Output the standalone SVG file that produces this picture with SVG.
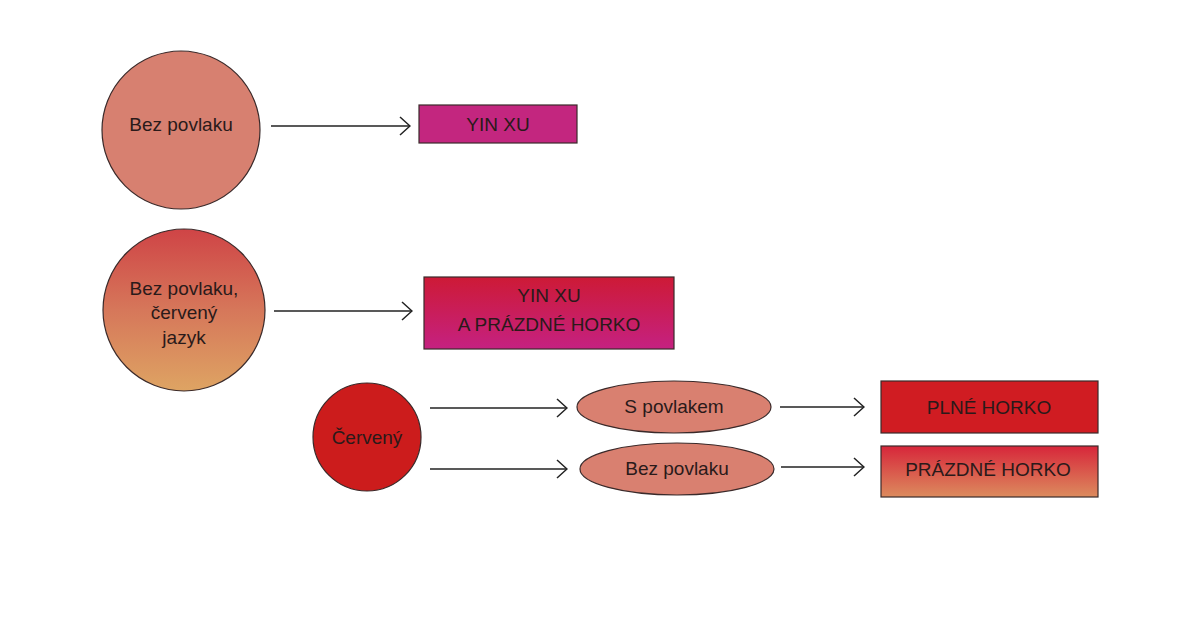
<svg xmlns="http://www.w3.org/2000/svg" width="1200" height="641" viewBox="0 0 1200 641">
<defs>
<linearGradient id="g1" x1="0" y1="0" x2="0" y2="1"><stop offset="0" stop-color="#cf4446"/><stop offset="0.5" stop-color="#d6775a"/><stop offset="1" stop-color="#dea463"/></linearGradient>
<linearGradient id="g2" x1="0" y1="0" x2="0" y2="1"><stop offset="0" stop-color="#cd1a36"/><stop offset="1" stop-color="#c52181"/></linearGradient>
<linearGradient id="g3" x1="0" y1="0" x2="0" y2="1"><stop offset="0" stop-color="#d7263a"/><stop offset="1" stop-color="#dc8b5e"/></linearGradient>
<marker id="a" markerWidth="12" markerHeight="20" refX="11" refY="10" orient="auto" markerUnits="userSpaceOnUse"><path d="M1,1 L11,10 L1,19" fill="none" stroke="#222" stroke-width="1.5"/></marker>
</defs>
<style>
.s{stroke:#3a2a2a;stroke-width:1.2}
text{font-family:"Liberation Sans",Arial,sans-serif;font-size:19px;fill:#2a1a1a;text-anchor:middle}
.c line{stroke:#222;stroke-width:1.5;marker-end:url(#a)}
</style>
<rect width="1200" height="641" fill="#fff"/>
<g id="n1"><ellipse class="s" cx="181" cy="130" rx="79" ry="79" fill="#d78070"/><text x="181" y="131">Bez povlaku</text></g>
<g id="n2"><rect class="s" x="419" y="105" width="158" height="38" fill="#c3267f"/><text x="498" y="131">YIN XU</text></g>
<g id="n3"><ellipse class="s" cx="184" cy="310" rx="81" ry="81" fill="url(#g1)"/><text x="184" y="295">Bez povlaku,</text><text x="184" y="319">červený</text><text x="184" y="344">jazyk</text></g>
<g id="n4"><rect class="s" x="424" y="277" width="250" height="72" fill="url(#g2)"/><text x="549" y="302">YIN XU</text><text x="549" y="331">A PRÁZDNÉ HORKO</text></g>
<g id="n5"><ellipse class="s" cx="367" cy="437" rx="54" ry="54" fill="#cc1c1c"/><text x="367" y="444">Červený</text></g>
<g id="n6"><ellipse class="s" cx="674" cy="407" rx="97" ry="26" fill="#d98070"/><text x="674" y="413">S povlakem</text></g>
<g id="n7"><ellipse class="s" cx="677" cy="469" rx="97" ry="26" fill="#d98070"/><text x="677" y="475">Bez povlaku</text></g>
<g id="n8"><rect class="s" x="881" y="381" width="217" height="52" fill="#d01c22"/><text x="989" y="414">PLNÉ HORKO</text></g>
<g id="n9"><rect class="s" x="881" y="446" width="217" height="51" fill="url(#g3)"/><text x="988" y="476">PRÁZDNÉ HORKO</text></g>
<g class="c">
<line x1="271" y1="126" x2="410" y2="126"/>
<line x1="274" y1="311" x2="412" y2="311"/>
<line x1="430" y1="408" x2="567" y2="408"/>
<line x1="430" y1="469" x2="567" y2="469"/>
<line x1="780" y1="407" x2="864" y2="407"/>
<line x1="781" y1="467" x2="864" y2="467"/>
</g>
</svg>
